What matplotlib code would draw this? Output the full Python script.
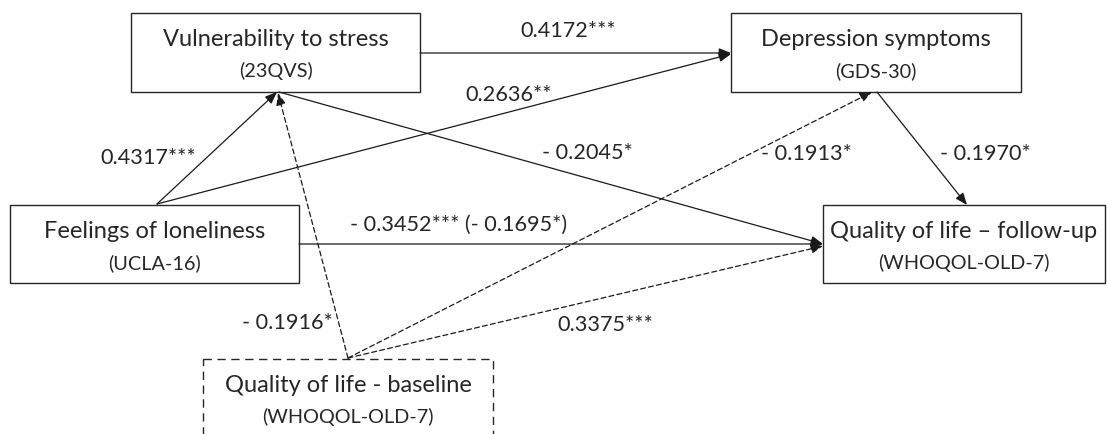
"""Path diagram: loneliness -> stress vulnerability / depression -> quality of life."""

import matplotlib

matplotlib.use("Agg")
import matplotlib.pyplot as plt
from matplotlib.patches import Rectangle, FancyArrowPatch

plt.rcParams["font.family"] = ["Lato", "DejaVu Sans"]

# node texts
node_titles = [
    "Vulnerability to stress",
    "Depression symptoms",
    "Feelings of loneliness",
    "Quality of life \u2013 follow-up",
    "Quality of life - baseline",
]
node_scales = ["(23QVS)", "(GDS-30)", "(UCLA-16)", "(WHOQOL-OLD-7)", "(WHOQOL-OLD-7)"]

# path coefficients (label text)
coef_stress_dep = "0.4172***"
coef_lon_dep = "0.2636**"
coef_lon_stress = "0.4317***"
coef_stress_qol = "- 0.2045*"
coef_lon_qol = "- 0.3452*** (- 0.1695*)"
coef_base_dep = "- 0.1913*"
coef_dep_qol = "- 0.1970*"
coef_base_stress = "- 0.1916*"
coef_base_qol = "0.3375***"

W, H = 1107, 434
INK = "#262626"
fig = plt.figure(figsize=(W / 100, H / 100), dpi=100)
ax = fig.add_axes([0, 0, 1, 1])
ax.set_xlim(0, W)
ax.set_ylim(H, 0)
ax.axis("off")

# boxes in pixel space: (x0, y0, x1, y1, dashed)
boxes = [
    (131, 13, 420, 92, False),
    (731, 13, 1021, 92, False),
    (10, 205, 299, 283, False),
    (823, 205, 1105, 283, False),
    (203, 359, 493, 450, True),
]
for (x0, y0, x1, y1, dashed), title, scale in zip(boxes, node_titles, node_scales):
    ax.add_patch(Rectangle((x0, y0), x1 - x0, y1 - y0, fill=False, ec=INK, lw=1.0,
                           ls=(0, (6, 4)) if dashed else "-", clip_on=False))
    cx = (x0 + x1) / 2
    ax.text(cx, y0 + 26, title, ha="center", va="center", fontsize=17, color=INK)
    ax.text(cx, y0 + 58, scale, ha="center", va="center", fontsize=14.3, color=INK)


def arrow(p0, p1, dashed=False):
    ax.add_patch(FancyArrowPatch(p0, p1, arrowstyle="-|>,head_length=4.5,head_width=1.8",
                                 mutation_scale=1.6, color="#1a1a1a", lw=0.9,
                                 ls=(0, (4, 2.5)) if dashed else "-",
                                 shrinkA=0, shrinkB=0))


arrow((420, 53), (731, 53))
arrow((157, 204), (277, 92))
arrow((157, 204), (731, 54))
arrow((279, 92), (823, 244))
arrow((299, 244), (823, 244))
arrow((348, 358), (872, 92), dashed=True)
arrow((877, 92), (967, 205))
arrow((348, 358), (278, 93), dashed=True)
arrow((348, 358), (823, 246), dashed=True)

lab = dict(ha="center", va="center", fontsize=15.6, color=INK)
ax.text(568, 31, coef_stress_dep, **lab)
ax.text(509, 95, coef_lon_dep, **lab)
ax.text(148, 158, coef_lon_stress, **lab)
ax.text(587, 153, coef_stress_qol, **lab)
ax.text(459, 225, coef_lon_qol, **lab)
ax.text(806, 154, coef_base_dep, **lab)
ax.text(985, 154, coef_dep_qol, **lab)
ax.text(287, 323, coef_base_stress, **lab)
ax.text(605, 325, coef_base_qol, **lab)

fig.savefig("out.png", dpi=100)
plt.close(fig)
